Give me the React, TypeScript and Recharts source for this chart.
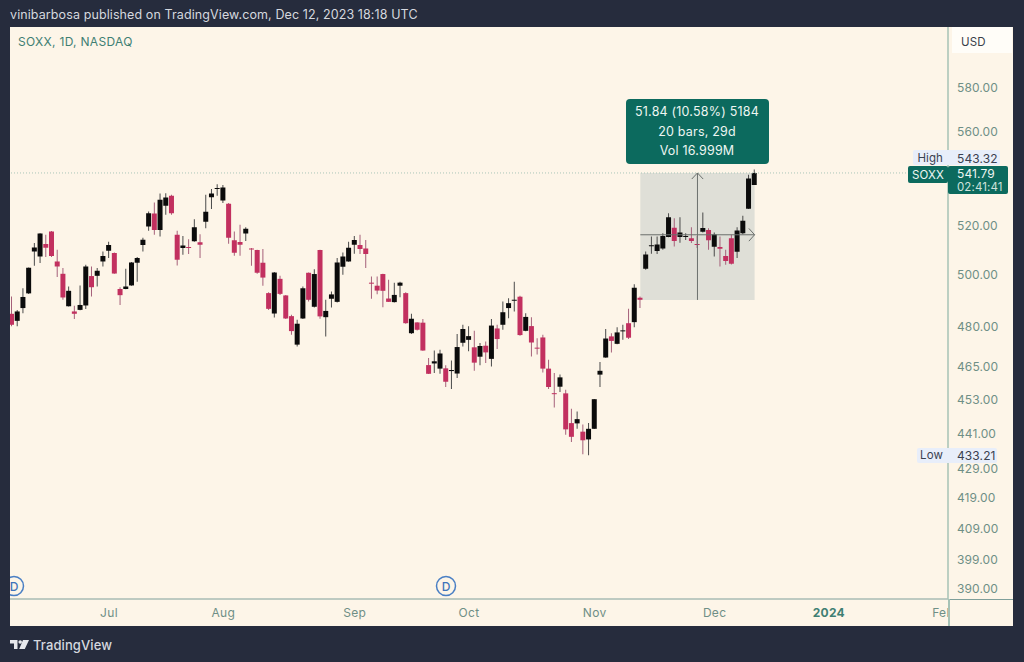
import React from "react";
import { ComposedChart, Bar, Cell, XAxis, YAxis, ReferenceArea, ReferenceLine } from "recharts";

const opens = [484.6,481.9,486.8,492.5,509.1,507.1,512.1,517.2,505.1,500.2,487.5,485.5,486.1,487.8,499.3,499.4,505.1,509.4,508.5,494.2,494.2,495.6,504.6,511.7,519.3,524.7,517.9,527.9,532.1,515.9,510.5,510.7,513.3,512.9,521.3,531.5,535,530.1,528.7,513.7,513,516.4,510.2,509.7,504.6,492.6,484.7,498.2,491.7,483.7,472.9,482.8,500.6,487.3,509.7,483.3,490.4,489.2,503,505.1,511.8,511.7,510.3,496.6,495.5,500.1,490.5,489.1,495.5,492.6,477.2,481.3,481.2,465.3,465.9,464,464.1,463.1,462.2,473.6,474.7,471.9,468.4,472.5,467.6,479,480.4,486.8,489.6,491.2,478.1,479.9,471.7,475.6,464,455,457.4,455,444.4,444.3,441.4,438.7,442.4,461.8,468.1,476,473.2,477.9,481,481.4,490.8,502.2,511.2,509.3,510.3,515,518.8,515,515,514.5,511.9,517.1,517.9,511,510.9,507.3,514.5,509,516.5,526.6,536.7];
const highs = [491.3,486.1,494.5,502.7,512.5,516.5,515.9,517.4,509.8,502.5,495.2,487.7,495.6,503.8,503.1,502.5,509.1,513.1,508.7,494.9,502.2,504.9,506.9,514.7,525.5,529.3,533,533.2,532.5,517.5,515.4,514.1,522.3,516.1,532.5,534.9,537,536.7,529,517.2,520,519,510.5,509.8,510.1,492.9,500.9,499.4,491.9,484.2,482.3,495.2,500.7,502,509.8,490,493.2,506.5,508.7,513.1,515.4,515.9,513.8,499.1,499.1,500.2,497.8,496.7,497.1,492.9,484.6,481.4,482.6,467.9,470.7,471,465.2,467,476.9,480.4,479.8,478.1,473.5,474.1,482.6,480.4,489.3,490.6,497.1,491.6,484.8,483.3,475.3,476.6,467.3,462.4,461.8,456.3,449.5,448.5,443.9,444.4,453,466.4,478.8,477.2,479.5,480.4,486.5,496.1,491.3,509.1,515.2,515.2,516.5,524.8,522.7,523.1,516.5,519,515.4,525.1,518.6,516.8,515.2,509.8,515.9,519,523.7,541,543.32];
const lows = [479.8,479.8,484.8,492.3,503.4,504.5,506.9,506.9,498.9,490,487.4,482.6,486,486.4,491.3,495.2,503.1,506.5,500.2,488,494.1,495.5,497.1,509.1,517.5,515.9,515.2,524.1,524.1,503.5,507.8,508.1,513.1,506.5,518.6,526.5,532.1,529,512.2,507.4,507.4,513.4,503.4,500.2,495.5,486.1,483.2,491.9,482.6,476.6,472.2,482.6,489.3,487,482.7,476,487,489,499.8,505,508.2,508.1,502.5,490.4,492.2,487.1,489.1,489,491,480.8,476.9,478.2,470.6,462,462.4,462.1,457.3,456.6,460.6,472.2,470.4,463.2,465.2,466.1,464.8,471.3,478.5,482.9,485.5,476.2,477.9,468.5,469.2,462.6,456.6,449.9,455.5,440.3,437.8,442.4,433.6,433.21,442.3,457.3,468,470,473,474.7,475,479.5,486.8,501.8,508.2,508.1,509.8,514.9,511.1,512.7,513.8,512.5,510.5,516.8,509.8,507.1,503.1,503.8,503.9,506.5,516.1,526.5,536.6];
const closes = [480.4,485.5,491.1,502.6,510.7,516.4,510.6,507.3,503.1,490.9,493.5,484.6,488,503.1,494.9,501.4,507.3,511.7,500.3,491.8,495.2,504.7,506.5,513.9,524.8,517.9,530.4,531.4,524.8,505.8,511.5,510.5,519,511.8,525.4,533,535.3,535.6,514.7,508.6,511.8,518.4,509.9,500.6,498.7,486.5,500.7,492.3,482.8,478,480.8,494.5,490,500.1,483.6,485.7,492.1,504.7,507.1,510.6,513.8,510.1,508.1,496.3,493.6,493.5,489.2,491.9,496.7,481,482.7,478.5,470.7,462.1,466.7,469.6,459.2,463.5,472,478.8,476.1,466.2,472.4,470,480.1,475,485.2,488.7,490,476.5,483.4,473.7,471.4,464,457.3,454.7,460.8,442.2,439.6,445.8,438.4,442.4,452.9,463.2,475.2,474.3,477.5,478.1,475.5,494.7,490,507.9,511.5,511.9,515.4,523.1,513.4,516.8,515.4,513.4,511.7,518.7,513.7,516,510.2,505.3,504.2,517.6,521.7,539.4,541.79];

const FUTURE_BARS = 33;
const monthTicks = [17, 37, 60, 80, 102, 123, 143, 163];
const monthNames = ["Jul", "Aug", "Sep", "Oct", "Nov", "Dec", "2024", "Feb"];
const priceTicks = [390, 399, 409, 419, 429, 441, 453, 465, 480, 500, 520, 560, 580];
const priceDomain = [386.6, 608.2];
const indexDomain = [-0.5, 163.5];
const lastPrice = 541.79;
const measureFrom = 110;
const measureTo = 130;
const measureMid = 120;
const measureBase = 489.95;
const measureCross = 515.9;
const arrowDx = 1;
const arrowDy = 2.6;

const DARK = "#262c3d";
const PAPER = "#fdf5e8";
const UP = "#0b0b0b";
const DOWN = "#c2305f";
const TEAL = "#0c6a5e";
const AXIS_TEXT = "#6f8f86";
const AXIS_LINE = "#a6c2b6";
const FONT = "Inter, 'Noto Sans', sans-serif";

const rows = Array.from({ length: opens.length + FUTURE_BARS }, (_, i) => {
  if (i >= opens.length) return { i };
  return {
    i,
    up: closes[i] >= opens[i],
    wick: [lows[i], highs[i]],
    body: [Math.min(opens[i], closes[i]), Math.max(opens[i], closes[i])],
  };
});

const XTick = (p: any) => {
  const name = monthNames[monthTicks.indexOf(p.payload.value)];
  return (
    <g>
      <clipPath id="time-clip"><rect x={0} y={600} width={948} height={26} /></clipPath>
      <text x={p.x} y={617} textAnchor="middle" clipPath="url(#time-clip)"
        fontSize={12} letterSpacing={0.3} fontFamily={FONT}
        fontWeight={name === "2024" ? 700 : 400} fill={name === "2024" ? "#3f7f73" : AXIS_TEXT}>
        {name}
      </text>
    </g>
  );
};

const YTick = (p: any) => (
  <text x={957} y={p.y + 5} fontSize={12} letterSpacing={0.1} fontFamily={FONT} fill={AXIS_TEXT}>
    {Number(p.payload.value).toFixed(2)}
  </text>
);

const Box = ({ x, y, w, h, bg, r, children, style }: any) => (
  <div style={{ position: "absolute", left: x, top: y, width: w, height: h, background: bg, borderRadius: r, ...style }}>{children}</div>
);

const Label = ({ x, y, color, size = 12, weight = 400, spacing = 0.1, anchor = "left", children }: any) => (
  <div style={{
    position: "absolute", top: y - 10, height: 20, lineHeight: "20px", whiteSpace: "nowrap",
    left: anchor === "left" ? x : anchor === "center" ? x - 100 : undefined,
    width: anchor === "center" ? 200 : undefined,
    right: anchor === "right" ? 1024 - x : undefined,
    textAlign: anchor === "center" ? "center" : undefined,
    color, fontSize: size, fontWeight: weight, fontFamily: FONT, letterSpacing: spacing,
  }}>{children}</div>
);

const Dividend = ({ cx }: any) => (
  <svg style={{ position: "absolute", left: cx - 11, top: 575 }} width={22} height={22}>
    <circle cx={11} cy={11} r={9.5} fill={PAPER} stroke="#4a7fc4" strokeWidth={1.5} />
    <text x={11} y={15.5} textAnchor="middle" fontSize={12} fontFamily={FONT} fontWeight={500} fill="#3f74ba">D</text>
  </svg>
);

export default function App() {
  return (
    <div style={{ position: "absolute", left: 0, top: 0, width: 1024, height: 662, background: DARK, overflow: "hidden" }}>
      <Box x={10} y={27} w={1003} h={599} bg={PAPER} />
      <Box x={952} y={27} w={60} h={26} bg="#fffdf8" />
      <Dividend cx={14} />
      <Dividend cx={446} />
      <ComposedChart width={1024} height={662} data={rows} style={{ position: "absolute", left: 0, top: 0 }}
        margin={{ left: 9, right: 11, top: 27, bottom: 36 }}>
        <XAxis xAxisId="main" dataKey="i" type="category" height={27} padding={{ left: 0, right: 2 }}
          ticks={monthTicks} interval={0} tick={<XTick />} tickLine={false} axisLine={{ stroke: "#7f9f9a" }} />
        <XAxis xAxisId="wick" dataKey="i" type="category" hide padding={{ left: 0, right: 2 }} />
        <XAxis xAxisId="num" dataKey="i" type="number" domain={indexDomain} hide padding={{ left: 0, right: 2 }} />
        <YAxis orientation="right" width={65} scale="log" domain={priceDomain} allowDataOverflow ticks={priceTicks} interval={0}
          tickLine={false} axisLine={{ stroke: AXIS_LINE, strokeWidth: 1.5 }} tick={<YTick />} />
        <ReferenceArea xAxisId="num" x1={measureFrom} x2={measureTo} y1={measureBase} y2={lastPrice} fill="#dfdfd7" fillOpacity={1} stroke="none" />
        <ReferenceLine xAxisId="num" y={lastPrice} stroke="#a9c6b8" strokeDasharray="1 2" />
        <ReferenceLine xAxisId="num" segment={[{ x: measureMid, y: measureBase }, { x: measureMid, y: lastPrice }]} stroke="#6b6f6c" />
        <ReferenceLine xAxisId="num" segment={[{ x: measureMid - arrowDx, y: lastPrice - arrowDy }, { x: measureMid, y: lastPrice }]} stroke="#6b6f6c" />
        <ReferenceLine xAxisId="num" segment={[{ x: measureMid + arrowDx, y: lastPrice - arrowDy }, { x: measureMid, y: lastPrice }]} stroke="#6b6f6c" />
        <ReferenceLine xAxisId="num" segment={[{ x: measureFrom, y: measureCross }, { x: measureTo, y: measureCross }]} stroke="#6b6f6c" />
        <ReferenceLine xAxisId="num" segment={[{ x: measureTo - arrowDx, y: measureCross + arrowDy }, { x: measureTo, y: measureCross }]} stroke="#6b6f6c" />
        <ReferenceLine xAxisId="num" segment={[{ x: measureTo - arrowDx, y: measureCross - arrowDy }, { x: measureTo, y: measureCross }]} stroke="#6b6f6c" />
        <Bar xAxisId="wick" dataKey="wick" barSize={1} isAnimationActive={false} minPointSize={1}>
          {rows.map((r: any) => <Cell key={r.i} fill={r.up ? "#4a4a4a" : "#a5607a"} />)}
        </Bar>
        <Bar xAxisId="main" dataKey="body" barSize={5} isAnimationActive={false} minPointSize={1}>
          {rows.map((r: any) => <Cell key={r.i} fill={r.up ? UP : DOWN} />)}
        </Bar>
      </ComposedChart>
      <Box x={0} y={27} w={10} h={600} bg={DARK} />
      <Box x={948} y={599} w={65} h={1} bg="#7f9f9a" />
      <Box x={948} y={599} w={1.5} h={27} bg={AXIS_LINE} />

      <Label x={10} y={15} color="#d5d8df" size={12.5} spacing={0.1}>vinibarbosa published on TradingView.com, Dec 12, 2023 18:18 UTC</Label>
      <Label x={18} y={42} color="#3f7f73" size={12} spacing={0.3}>SOXX, 1D, NASDAQ</Label>
      <Label x={961} y={42} color="#3a3f4a" size={11.5}>USD</Label>

      <Box x={626} y={99} w={143} h={65} bg={TEAL} r={4} />
      <Label x={697} y={112} color="#eef6f2" anchor="center" size={12.5} spacing={0.2}>51.84 (10.58%) 5184</Label>
      <Label x={697} y={132} color="#eef6f2" anchor="center" size={12.5} spacing={0.2}>20 bars, 29d</Label>
      <Label x={697} y={151} color="#eef6f2" anchor="center" size={12.5} spacing={0.2}>Vol 16.999M</Label>

      <Box x={913} y={150} w={87} h={15} bg="#e8eefa" r={2} />
      <Label x={943} y={157.5} color="#3a4150" anchor="right" size={11.5}>High</Label>
      <Label x={957} y={158.5} color="#3a4150">543.32</Label>
      <Box x={908} y={166} w={40} h={17} bg={TEAL} r={2} />
      <Box x={948} y={166} w={60} h={28} bg={TEAL} r={2} />
      <Label x={912} y={174.5} color="#eef6f2" size={11.5}>SOXX</Label>
      <Label x={957} y={173.5} color="#eef6f2">541.79</Label>
      <Label x={957} y={187} color="#cfe3dc" size={11.5}>02:41:41</Label>

      <Box x={917} y={448} w={80} h={15} bg="#e8eefa" r={2} />
      <Label x={943} y={455} color="#3a4150" anchor="right" size={11.5}>Low</Label>
      <Label x={957} y={455.5} color="#3a4150">433.21</Label>

      <svg style={{ position: "absolute", left: 10, top: 639 }} width={20} height={12}>
        <path d="M0 1 H7.5 V10 H4 V4.5 H0 Z" fill="#e6e8ec" />
        <circle cx={10.2} cy={3} r={1.8} fill="#e6e8ec" />
        <path d="M13 1 H19 L14.8 10 H9.2 Z" fill="#e6e8ec" />
      </svg>
      <Label x={33} y={645} color="#d5d8df" size={13} weight={500} spacing={0.1}>TradingView</Label>
    </div>
  );
}
